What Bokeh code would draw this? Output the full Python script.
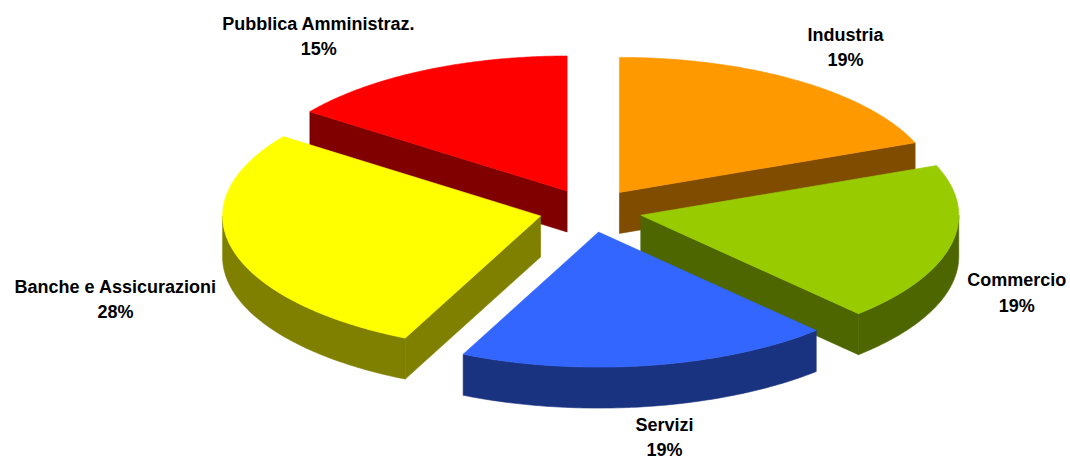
import numpy as np
from bokeh.plotting import figure
from bokeh.models import Range1d, ColumnDataSource
from bokeh.embed import file_html
from bokeh.resources import INLINE
from bokeh.core.properties import value

# ---- data ----
categories = ["Industria", "Commercio", "Servizi", "Banche e Assicurazioni", "Pubblica Amministraz."]
values = [19, 19, 19, 28, 15]

# ---- styles ----
top_colors = ["#FF9900", "#99CC00", "#3366FF", "#FFFF00", "#FF0000"]
side_colors = ["#804D00", "#4D6600", "#1A3380", "#808000", "#800000"]

# ---- layout (pixels) ----
W, H = 1070, 461
CX, CY = 590, 210
RX, RY = 318, 135
DEPTH = 41
EXPLODE = 0.162
LRX, LRY = 386, 173
LABEL_DEPTH = 0.88
BLOCK_H = 40
LINE_GAP = 25.5
FS = 18

# Arial-bold-like advance widths (em) for label width estimation
CW = {"A": .722, "B": .722, "C": .722, "I": .278, "P": .667, "S": .667,
      "a": .556, "b": .611, "c": .556, "d": .611, "e": .556, "h": .611, "i": .278,
      "l": .278, "m": .889, "n": .611, "o": .611, "r": .389, "s": .556, "t": .333,
      "u": .611, "v": .556, "z": .5, " ": .278, ".": .278, "%": .889}


def text_w(s):
    return sum(CW.get(ch, .556) for ch in s) * FS


total = float(sum(values))
fr = np.array(values, dtype=float) / total
ends = np.cumsum(fr) * 2 * np.pi
starts = ends - fr * 2 * np.pi
mids = (starts + ends) / 2
pcts = ["%d%%" % round(v / total * 100) for v in values]

p = figure(width=W, height=H, x_range=Range1d(0, W), y_range=Range1d(H, 0),
           output_backend="svg", toolbar_location=None, min_border=0)
p.axis.visible = False
p.grid.visible = False
p.outline_line_color = None
p.background_fill_color = "white"
p.border_fill_color = "white"

apex = []
for i in range(len(values)):
    m = mids[i]
    apex.append((CX + EXPLODE * RX * np.sin(m), CY - EXPLODE * RY * np.cos(m)))

order = sorted(range(len(values)), key=lambda i: apex[i][1])

for i in order:
    ax, ay = apex[i]
    s, e = starts[i], ends[i]
    xs_list, ys_list, cols = [], [], []
    # curved outer wall (front half only)
    a, b = max(s, np.pi / 2), min(e, 3 * np.pi / 2)
    if a < b:
        th = np.linspace(a, b, 80)
        wx = ax + RX * np.sin(th)
        wy = ay - RY * np.cos(th)
        xs_list.append(list(wx) + list(wx[::-1]))
        ys_list.append(list(wy) + list((wy + DEPTH)[::-1]))
        cols.append(side_colors[i])
    # radial faces
    for ang, nrm in ((s, s - np.pi / 2), (e, e + np.pi / 2)):
        if np.cos(nrm) < -1e-6:
            ex, ey = ax + RX * np.sin(ang), ay - RY * np.cos(ang)
            xs_list.append([ax, ex, ex, ax])
            ys_list.append([ay, ey, ey + DEPTH, ay + DEPTH])
            cols.append(side_colors[i])
    if xs_list:
        p.patches(xs="xs", ys="ys", fill_color="c", line_color="c", line_width=0.6,
                  source=ColumnDataSource(dict(xs=xs_list, ys=ys_list, c=cols)))
    # top face
    th = np.linspace(s, e, 120)
    tx = [ax] + list(ax + RX * np.sin(th))
    ty = [ay] + list(ay - RY * np.cos(th))
    p.patches(xs=[tx], ys=[ty], fill_color=top_colors[i], line_color=top_colors[i], line_width=0.6)

# labels
lx, ly1, ly2 = [], [], []
for i in range(len(values)):
    sn, cs = np.sin(mids[i]), np.cos(mids[i])
    w = max(text_w(categories[i]), text_w(pcts[i]))
    x = CX + LRX * sn + np.clip(3 * sn, -1, 1) * w / 2
    y = (CY - LRY * cs + (LABEL_DEPTH * DEPTH if cs < 0 else 0)
         + np.clip(-2 * cs, -1, 1) * BLOCK_H / 2)
    lx.append(x)
    ly1.append(y - LINE_GAP / 2)
    ly2.append(y + LINE_GAP / 2)

src = ColumnDataSource(dict(x=lx, y1=ly1, y2=ly2, name=categories, pct=pcts))
for ycol, tcol in (("y1", "name"), ("y2", "pct")):
    p.text(x="x", y=ycol, text=tcol, source=src, text_align="center", text_baseline="middle",
           text_font=value("Liberation Sans"), text_font_style="bold",
           text_font_size="%dpx" % FS, text_color="black")

open("out.html", "w").write(file_html(p, INLINE))
